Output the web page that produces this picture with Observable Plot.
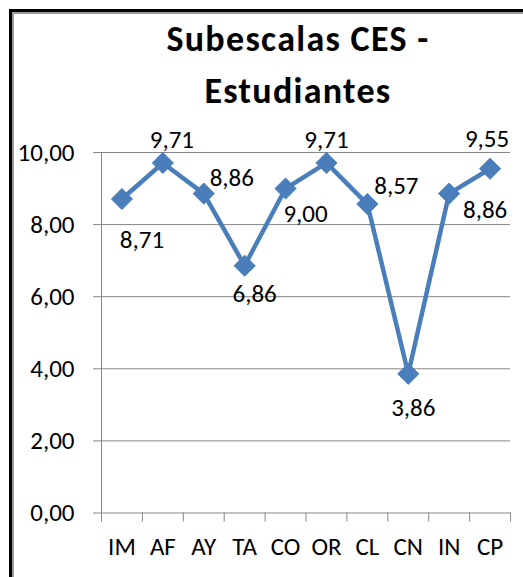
<!DOCTYPE html>
<html><head><meta charset="utf-8">
<script src="https://cdn.jsdelivr.net/npm/d3@7"></script>
<script src="https://cdn.jsdelivr.net/npm/@observablehq/plot@0.6"></script>
<style>
body{margin:0;background:#fff;}
#wrap{position:relative;width:523px;height:577px;overflow:hidden;font-family:Carlito,Lato,sans-serif;}
#frame{position:absolute;left:9px;top:9px;width:700px;height:800px;border-left:3px solid #000;border-top:3px solid #000;}
#frame2{position:absolute;left:12px;top:12px;width:700px;height:800px;border-left:2px solid #9a9a9a;border-top:2px solid #9a9a9a;}
#title{position:absolute;left:0;top:13px;width:596px;text-align:center;font-weight:bold;font-size:36px;letter-spacing:1.3px;line-height:52px;color:#000;}
#chart{position:absolute;left:0;top:0;}
</style></head>
<body>
<div id="wrap">
  <div id="frame"></div><div id="frame2"></div>
  <div id="title">Subescalas CES -<br>Estudiantes</div>
  <div id="chart"></div>
</div>
<script>
const categories = ["IM","AF","AY","TA","CO","OR","CL","CN","IN","CP"];
const values = [8.71, 9.71, 8.86, 6.86, 9.00, 9.71, 8.57, 3.86, 8.86, 9.55];
const yTicks = [0, 2, 4, 6, 8, 10];
// label placement offsets (px) relative to each marker
const labelOffsets = [[20,41],[9,-23],[28,-16],[10,28],[20,25],[0,-23],[29,-18],[5,34],[36,16],[-3,-30]];

const data = categories.map((c, i) => ({i, c, v: values[i]}));
const fmt = v => v.toFixed(2).replace(".", ",");
const bounds = d3.range(categories.length + 1).map(i => i - 0.5);
const blue = "#4A7EBB";
const grid = "#868686";
const fs = 25;

const chart = Plot.plot({
  width: 523, height: 577,
  marginLeft: 101, marginRight: 13, marginTop: 152, marginBottom: 64.5,
  style: {fontFamily: "Carlito, Lato, sans-serif", background: "transparent", overflow: "visible"},
  x: {type: "linear", domain: [-0.5, categories.length - 0.5]},
  y: {domain: [0, 10]},
  marks: [
    Plot.ruleY(yTicks, {stroke: grid, strokeWidth: 1}),
    Plot.ruleX([-0.5], {stroke: grid, strokeWidth: 1}),
    Plot.axisY({ticks: yTicks, tickSize: 8, tickPadding: 19, tickFormat: fmt, stroke: grid, fill: "#000", fontSize: fs, label: null}),
    Plot.axisX({ticks: bounds, tickSize: 9, tickFormat: () => "", stroke: grid, label: null}),
    Plot.axisX({ticks: d3.range(categories.length), tickSize: 0, tickPadding: 24, tickFormat: i => categories[i], fill: "#000", fontSize: fs, label: null}),
    Plot.line(data, {x: "i", y: "v", stroke: blue, strokeWidth: 4.5}),
    Plot.dot(data, {x: "i", y: "v", symbol: "diamond2", r: 9.5, fill: blue, stroke: blue, strokeWidth: 1}),
    ...labelOffsets.map(([dx, dy], i) => Plot.text([data[i]], {x: "i", y: "v", text: d => fmt(d.v), dx, dy, fontSize: fs, fill: "#000"}))
  ]
});
document.getElementById("chart").append(chart);
</script>
</body></html>
